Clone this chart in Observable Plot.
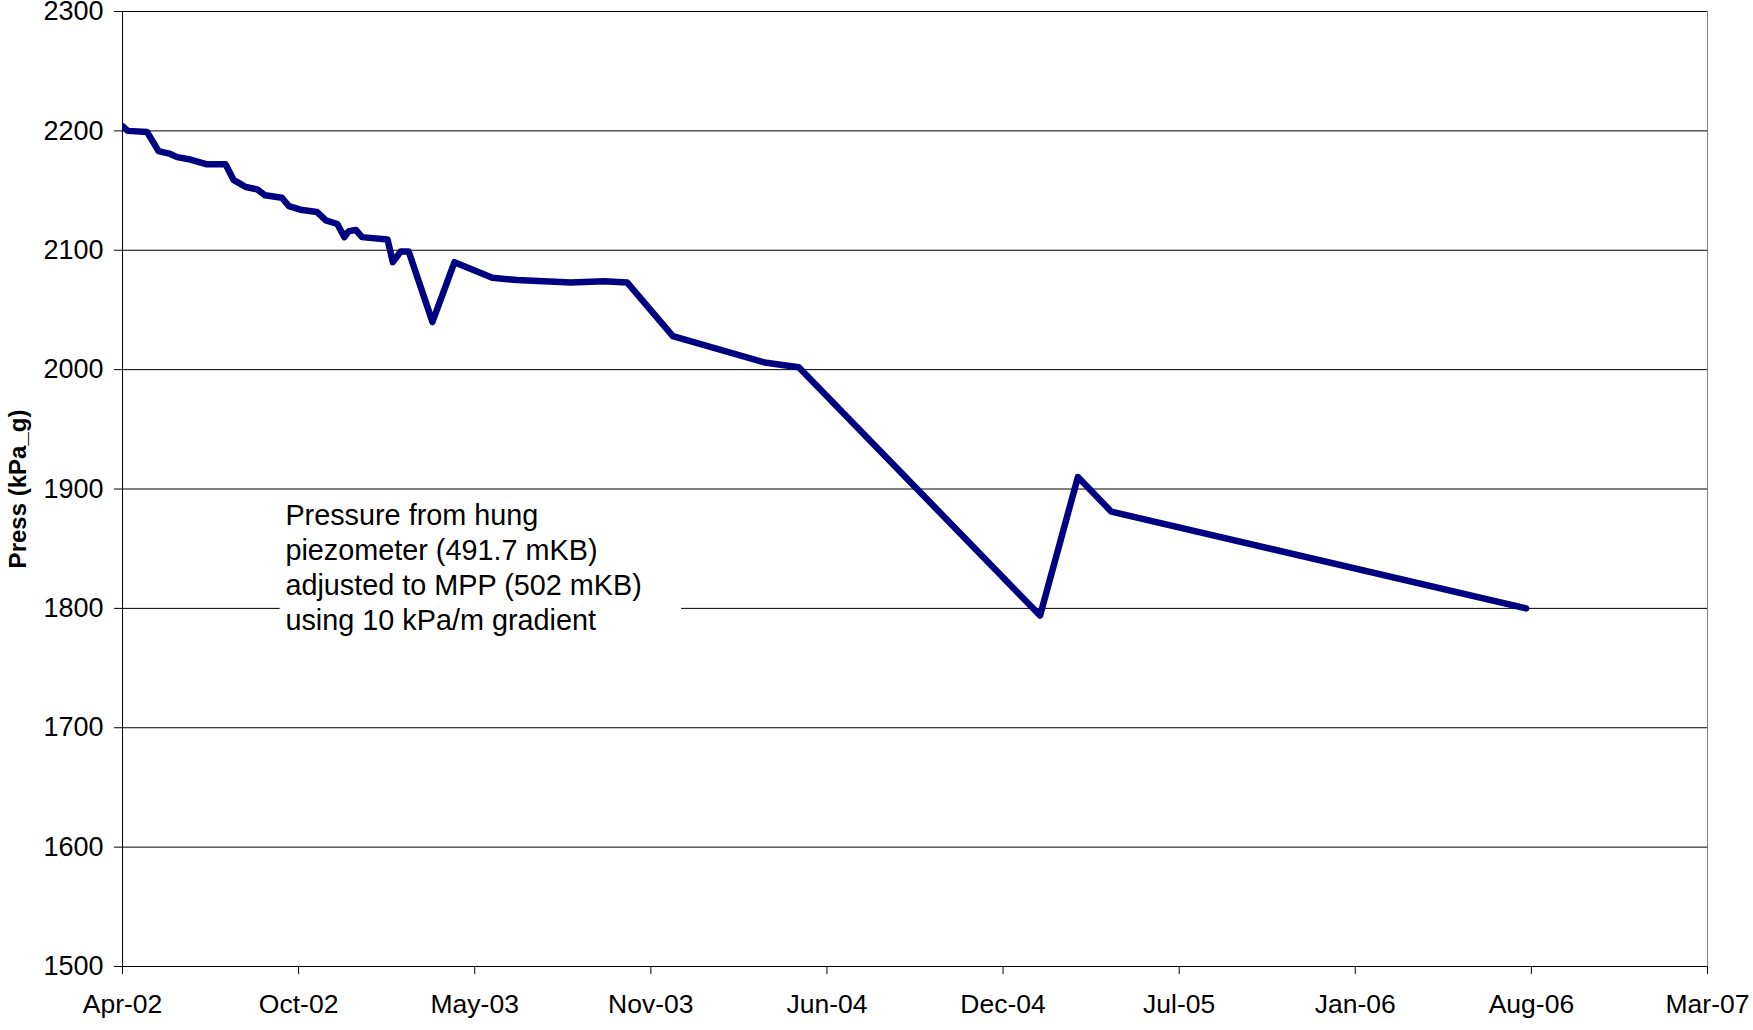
<!DOCTYPE html>
<html>
<head>
<meta charset="utf-8">
<script src="https://cdn.jsdelivr.net/npm/d3@7"></script>
<script src="https://cdn.jsdelivr.net/npm/@observablehq/plot@0.6"></script>
<style>
  html, body { margin: 0; padding: 0; background: #fff; }
  #chart { width: 1753px; height: 1030px; }
</style>
</head>
<body>
<div id="chart"></div>
<script>
// ---- data ----
const dates = [
  "2002-04-01","2002-04-07","2002-04-29","2002-05-12","2002-05-24","2002-06-02",
  "2002-06-17","2002-07-06","2002-07-27","2002-08-05","2002-08-19","2002-09-01",
  "2002-09-10","2002-09-29","2002-10-07","2002-10-20","2002-11-08","2002-11-18",
  "2002-12-01","2002-12-09","2002-12-14","2002-12-22","2002-12-29","2003-01-27",
  "2003-02-02","2003-02-11","2003-02-20","2003-03-19","2003-04-13","2003-05-26",
  "2003-06-23","2003-08-23","2003-09-30","2003-10-26","2003-12-17","2004-03-30",
  "2004-05-08","2005-02-06","2005-03-21","2005-04-28","2006-08-12"
];
const pressure = [
  2204, 2200, 2199, 2183, 2181, 2178,
  2176, 2172, 2172, 2159, 2153, 2151,
  2146, 2144, 2137, 2134, 2132, 2125,
  2122, 2111, 2116, 2117, 2111, 2109,
  2090, 2099, 2099, 2040, 2090, 2077,
  2075, 2073, 2074, 2073, 2028, 2006,
  2002, 1794, 1910, 1881, 1800
];
const xTickDates = [
  "2002-04-01","2002-10-18","2003-05-06","2003-11-22","2004-06-09",
  "2004-12-26","2005-07-14","2006-01-30","2006-08-18","2007-03-06"
];
const yTicks = [1500, 1600, 1700, 1800, 1900, 2000, 2100, 2200, 2300];
const yLabel = "Press (kPa_g)";
const noteText = "Pressure from hung\npiezometer (491.7 mKB)\nadjusted to MPP (502 mKB)\nusing 10 kPa/m gradient";
const noteAnchor = {date: "2002-10-03", press: 1835};
const noteBox = {date1: "2002-09-27", date2: "2003-12-27", press1: 1770, press2: 1895};

// ---- build ----
const parse = s => new Date(s + "T00:00:00Z");
const data = dates.map((d, i) => ({date: parse(d), press: pressure[i]}));
const xTicks = xTickDates.map(parse);
const xMin = xTicks[0], xMax = xTicks[xTicks.length - 1];
const fmt = d3.utcFormat("%b-%y");

const chart = Plot.plot({
  width: 1753,
  height: 1030,
  marginLeft: 122,
  marginRight: 46,
  marginTop: 11,
  marginBottom: 64,
  style: {fontFamily: "'Liberation Sans', Arial, sans-serif", fontSize: "26px", color: "#000", background: "#fff", overflow: "visible"},
  x: {type: "utc", domain: [xMin, xMax], label: null},
  y: {domain: [1500, 2300], label: null},
  marks: [
    Plot.ruleY(yTicks, {stroke: "#000", strokeWidth: 1}),
    Plot.rect([noteBox], {x1: d => parse(d.date1), x2: d => parse(d.date2), y1: "press1", y2: "press2", fill: "#fff"}),
    Plot.ruleX([xMax], {stroke: "#808080", strokeWidth: 1}),
    Plot.ruleX([xMin], {stroke: "#000", strokeWidth: 1}),
    Plot.ruleY([1500], {stroke: "#000", strokeWidth: 1}),
    Plot.axisX({ticks: xTicks, tickFormat: fmt, tickSize: 8, tickPadding: 20, fontSize: 26.5, label: null, stroke: "#000"}),
    Plot.axisY({ticks: yTicks, tickFormat: d => String(d), tickSize: 8, tickPadding: 11, fontSize: 27, label: null, stroke: "#000"}),
    Plot.line(data, {x: "date", y: "press", stroke: "#000080", strokeWidth: 6.5, strokeLinejoin: "round", strokeLinecap: "round", clip: true}),
    Plot.text([noteText], {x: () => parse(noteAnchor.date), y: () => noteAnchor.press, text: d => d, textAnchor: "start", lineAnchor: "middle", lineHeight: 1.21, fontSize: 28.8, fill: "#000"}),
    Plot.text([yLabel], {frameAnchor: "left", text: d => d, rotate: -90, dx: -104, textAnchor: "middle", fontSize: 24, fontWeight: "bold", fill: "#000"})
  ]
});
document.getElementById("chart").appendChild(chart);
</script>
</body>
</html>
